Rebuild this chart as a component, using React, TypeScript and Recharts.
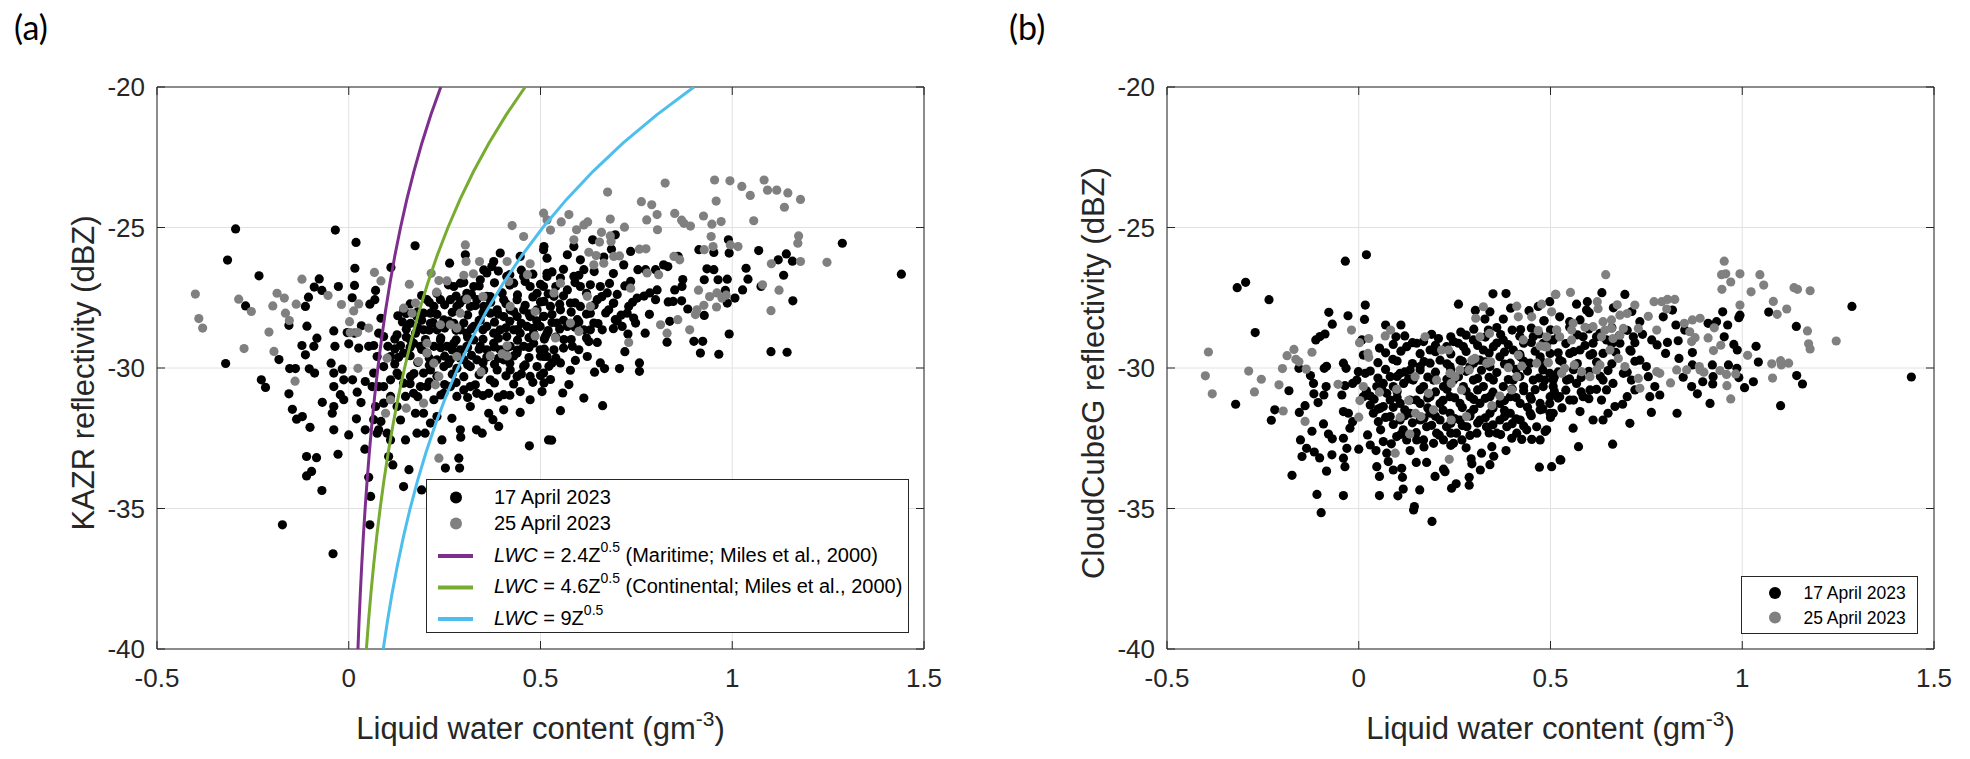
import { ScatterChart, Scatter, XAxis, YAxis, CartesianGrid, ReferenceLine, Legend } from 'recharts';

// LWC (g m-3) vs reflectivity (dBZ)
const lwcTicks = [-0.5, 0, 0.5, 1, 1.5];
const dbzTicks = [-40, -35, -30, -25, -20];

// panel (a): KAZR, 17 April 2023 (scattered points)
const kazr17: number[][] = [
  [-0.295,-25.05],[-0.035,-25.09],[0.019,-25.53],[0.173,-25.65],[-0.316,-26.16],[-0.234,-26.72],[0.016,-26.45],[0.110,-26.42],
  [-0.077,-26.83],[-0.090,-27.12],[-0.070,-27.24],[-0.027,-27.10],[0.015,-27.06],[0.070,-27.24],[0.009,-27.50],[-0.105,-27.48],
  [-0.269,-27.79],[-0.113,-27.81],[0.055,-27.73],[0.068,-27.57],[0.084,-28.23],[0.128,-28.14],[-0.156,-28.48],[-0.109,-28.51],
  [-0.039,-28.68],[-0.004,-28.74],[0.015,-28.76],[0.033,-28.50],[-0.083,-28.94],[-0.122,-29.20],[-0.091,-29.23],[-0.036,-29.23],
  [0,-29.14],[0.026,-29.29],[0.052,-29.23],[0.065,-29.20],[-0.113,-29.53],[-0.046,-29.83],[-0.321,-29.84],[-0.182,-29.70],
  [-0.154,-30.02],[-0.139,-30.02],[-0.103,-30.03],[-0.089,-30.18],[-0.039,-30.18],[-0.017,-30.04],[-0.013,-30.42],[0.010,-30.42],
  [0.043,-30.48],[0.061,-30.66],[0.022,-30.86],[-0.039,-30.66],[-0.022,-30.95],[-0.228,-30.42],[-0.217,-30.69],[-0.156,-30.92],
  [-0.069,-31.22],[-0.039,-31.37],[-0.013,-31.13],[0.032,-31.23],[-0.147,-31.47],[-0.136,-31.82],[-0.121,-31.73],[-0.101,-32.11],
  [-0.043,-31.61],[-0.039,-32.20],[0.020,-31.81],[0.043,-32.20],[0,-32.38],[0.074,-32.32],[0.084,-31.90],[-0.110,-33.15],
  [-0.084,-33.19],[-0.028,-33.07],[-0.110,-33.84],[-0.097,-33.68],[-0.070,-34.36],[0.042,-32.89],[0.052,-33.89],[0.057,-34.57],
  [0.055,-35.58],[-0.173,-35.58],[-0.041,-36.61],
  [0.091,-28.88],[0.102,-29.23],[0.126,-28.82],[0.135,-29.20],[0.143,-29.47],[0.109,-29.59],[0.091,-29.95],[0.109,-30.42],
  [0.091,-30.66],[0.126,-30.18],[0.143,-30.54],[0.161,-30.30],[0.169,-30.90],[0.148,-31.01],[0.135,-31.85],[0.148,-32.56],
  [0.109,-32.56],[0.104,-33.15],[0.115,-33.45],[0.157,-33.62],[0.143,-34.22],[0.190,-34.34],[0.178,-32.32],[0.199,-32.32],
  [0.213,-31.96],[0.195,-31.61],[0.174,-31.61],[0.230,-31.73],[0.243,-32.56],[0.252,-33.56],[0.287,-33.21],[0.289,-33.56],
  [0.269,-31.79],[0.291,-32.20],[0.292,-32.46],[0.317,-31.37],[0.333,-32.20],[0.348,-32.32],[0.365,-31.61],[0.391,-32.08],
  [0.376,-31.84],[0.471,-32.77],[0.521,-32.56],[0.447,-31.58],[0.404,-31.49],[0.473,-31.13],[0.447,-30.84],[0.504,-30.84],
  [0.404,-30.95],[0.365,-30.90],[0.334,-30.90],[0.317,-30.66],[0.300,-30.78],[0.282,-31.01],[0.265,-30.66],[0.248,-30.90],
  [0.222,-31.13],[0.204,-30.66],[0.187,-30.66],[0.195,-30.18],[0.213,-30.07],[0.230,-29.71],[0.248,-29.95],[0.265,-29.71],
  [0.282,-30.01],[0.300,-29.71],[0.317,-29.95],[0.334,-29.71],[0.352,-30.07],[0.369,-30.42],[0.387,-30.07],[0.404,-29.71],
  [0.421,-30.07],[0.439,-30.30],[0.456,-29.95],[0.473,-30.30],[0.491,-29.95],[0.508,-30.18],[0.517,-29.59],[0.499,-29.35],
  [0.482,-29.12],[0.456,-29.23],[0.439,-29.47],[0.421,-29.23],[0.395,-29.35],[0.378,-29.12],[0.360,-29.35],[0.343,-29.23],
  [0.326,-29.00],[0.308,-29.23],[0.291,-29.35],[0.274,-29.12],[0.256,-29.23],[0.239,-29.00],[0.222,-29.23],[0.204,-29.47],
  [0.187,-29.23],[0.169,-29.12],[0.174,-28.76],[0.195,-28.64],[0.213,-28.41],[0.230,-28.64],[0.248,-28.29],[0.274,-28.41],
  [0.291,-28.64],[0.308,-28.76],[0.326,-28.52],[0.343,-28.29],[0.360,-28.52],[0.378,-28.76],[0.395,-28.64],[0.412,-28.88],
  [0.430,-28.64],[0.447,-28.76],[0.465,-28.52],[0.482,-28.76],[0.499,-28.52],[0.517,-28.76],[0.508,-28.17],[0.491,-27.93],
  [0.473,-28.17],[0.456,-27.93],[0.439,-28.17],[0.421,-27.93],[0.404,-28.17],[0.387,-27.93],[0.369,-28.05],[0.352,-27.81],
  [0.334,-27.57],[0.317,-27.81],[0.300,-27.57],[0.282,-27.81],[0.265,-27.57],[0.239,-27.57],[0.222,-27.81],[0.204,-27.57],
  [0.213,-28.05],[0.195,-28.05],[0.178,-28.17],[0.161,-28.41],[0.143,-27.93],[0.274,-27.10],[0.291,-26.98],[0.308,-27.34],
  [0.326,-27.10],[0.343,-26.86],[0.352,-26.51],[0.373,-26.39],[0.395,-25.91],[0.378,-26.21],[0.412,-26.74],[0.430,-26.98],
  [0.447,-26.03],[0.456,-26.74],[0.473,-27.10],[0.491,-27.34],[0.508,-25.79],[0.508,-27.10],[0.517,-26.63],[0.439,-27.57],
  [0.404,-27.57],[0.369,-27.46],[0.304,-25.97],[0.263,-26.27],[0.078,-28.76],[0.074,-29.59],[0.065,-30.18],[0.078,-30.66],
  [0.070,-31.37],[0.091,-31.25],[0.109,-31.01],[0.126,-31.37],[0.065,-31.84],[0.100,-32.32],[0.078,-32.20],[0.161,-29.00],
  [1.287,-25.56],[1.441,-26.66],[1.158,-27.61],[1.141,-25.94],[1.120,-26.15],[1.069,-25.82],[0.990,-25.44],[0.992,-25.91],
  [0.952,-25.89],[0.913,-25.79],[0.934,-26.47],[0.952,-26.50],[0.987,-26.84],[0.963,-26.86],[0.927,-26.86],[0.871,-26.85],
  [0.869,-27.10],[0.850,-27.22],[1.036,-26.45],[1.041,-26.84],[1.027,-27.22],[1.007,-27.51],[0.982,-27.24],[0.987,-27.69],
  [0.992,-28.79],[0.923,-29.05],[0.900,-29.05],[0.917,-29.47],[0.965,-29.51],[1.101,-29.42],[1.143,-29.44],[0.927,-28.13],
  [0.884,-27.90],[0.868,-27.61],[0.846,-27.63],[0.833,-27.65],[0.837,-28.34],[0.830,-29.08],[0.859,-26.03],[0.832,-26.39],
  [0.821,-26.33],[0.800,-26.50],[0.774,-26.50],[0.754,-26.50],[0.785,-27.33],[0.804,-27.22],[0.784,-28.09],[0.800,-27.57],
  [0.773,-28.76],[0.758,-29.82],[0.758,-30.12],[0.706,-30.02],[0.667,-30.02],[0.656,-29.82],[0.641,-30.15],[0.613,-31.07],
  [0.662,-31.34],[0.552,-31.52],[0.529,-32.57],[0.558,-30.89],[0.574,-30.59],[0.578,-30.08],[0.591,-29.73],[0.622,-29.59],
  [0.648,-29.09],[0.626,-29.06],[0.720,-29.42],[0.728,-28.79],[0.748,-28.40],[0.743,-28.22],[0.713,-28.52],[0.695,-28.28],
  [0.678,-27.93],[0.691,-27.69],[0.726,-28.05],[0.730,-27.81],[0.752,-27.51],[0.735,-26.92],[0.717,-26.33],[0.735,-25.85],
  [0.695,-25.26],[0.685,-25.77],[0.665,-26.05],[0.636,-25.44],[0.604,-26.15],[0.587,-25.68],[0.570,-25.97],[0.509,-25.68],
  [0.517,-26.09],[0.613,-26.50],[0.587,-26.74],[0.552,-26.80],[0.517,-26.74],[0.604,-27.10],[0.570,-27.22],[0.535,-27.45],
  [0.509,-27.63],[0.656,-27.10],[0.674,-27.33],[0.648,-27.57],[0.630,-28.05],[0.604,-27.81],[0.578,-27.69],[0.552,-27.93],
  [0.526,-27.81],[0.509,-28.16],[0.543,-28.40],[0.570,-28.52],[0.596,-28.28],[0.613,-28.64],[0.639,-28.40],[0.661,-28.64],
  [0.513,-28.87],[0.561,-28.99],[0.583,-29.23],[0.535,-29.35],[0.509,-29.59],[0.552,-29.82],[0.522,-29.94],[0.509,-30.53],
  [0.526,-30.41],[1.157,-26.20],[1.134,-26.70],[1.075,-27.10],
];

// panel (a): KAZR, 17 April 2023 (dense core, estimated)
const kazr17Core: number[][] = [
  [0.36,-26.62],[0.39,-26.55],[0.42,-26.68],[0.45,-26.52],[0.48,-26.66],[0.53,-26.58],[0.56,-26.49],[0.60,-26.70],[0.64,-26.57],[0.69,-26.64],
  [0.26,-27.04],[0.30,-26.95],[0.34,-27.08],[0.38,-26.97],[0.42,-27.05],[0.46,-26.92],[0.50,-27.02],[0.54,-27.10],[0.59,-26.96],[0.63,-27.04],[0.68,-26.99],[0.72,-27.08],
  [0.19,-27.42],[0.23,-27.35],[0.28,-27.44],[0.32,-27.38],[0.36,-27.45],[0.40,-27.33],[0.44,-27.40],[0.48,-27.47],[0.52,-27.36],[0.56,-27.43],[0.62,-27.34],[0.66,-27.46],[0.70,-27.38],[0.77,-27.44],
  [0.16,-27.72],[0.21,-27.66],[0.25,-27.75],[0.29,-27.69],[0.33,-27.78],[0.37,-27.66],[0.41,-27.71],[0.46,-27.77],[0.50,-27.65],[0.55,-27.73],[0.59,-27.68],[0.64,-27.76],[0.69,-27.70],[0.74,-27.66],
  [0.15,-28.06],[0.18,-28.00],[0.23,-28.09],[0.27,-28.02],[0.31,-28.11],[0.35,-28.03],[0.39,-28.08],[0.43,-27.99],[0.47,-28.07],[0.53,-28.10],[0.58,-28.01],[0.62,-28.08],[0.67,-28.04],[0.71,-28.12],
  [0.14,-28.36],[0.19,-28.30],[0.22,-28.38],[0.26,-28.33],[0.30,-28.40],[0.34,-28.31],[0.38,-28.37],[0.42,-28.34],[0.45,-28.41],[0.49,-28.32],[0.53,-28.38],[0.56,-28.30],[0.60,-28.36],[0.65,-28.42],[0.70,-28.33],
  [0.15,-28.62],[0.18,-28.56],[0.21,-28.65],[0.25,-28.58],[0.28,-28.66],[0.32,-28.60],[0.35,-28.64],[0.41,-28.57],[0.44,-28.63],[0.48,-28.59],[0.52,-28.67],[0.55,-28.61],[0.59,-28.55],[0.63,-28.64],[0.69,-28.60],
  [0.12,-28.97],[0.15,-28.90],[0.20,-28.99],[0.24,-28.93],[0.28,-29.00],[0.31,-28.91],[0.35,-28.98],[0.39,-28.94],[0.44,-29.01],[0.47,-28.92],[0.51,-28.97],[0.54,-28.90],[0.58,-28.99],[0.62,-28.93],
  [0.12,-29.32],[0.16,-29.26],[0.19,-29.34],[0.24,-29.28],[0.27,-29.36],[0.31,-29.27],[0.34,-29.33],[0.38,-29.25],[0.41,-29.31],[0.44,-29.36],[0.47,-29.27],[0.51,-29.33],[0.56,-29.29],[0.60,-29.35],
  [0.13,-29.62],[0.16,-29.56],[0.21,-29.65],[0.25,-29.58],[0.29,-29.64],[0.32,-29.55],[0.36,-29.61],[0.39,-29.66],[0.43,-29.57],[0.47,-29.63],[0.50,-29.58],[0.54,-29.64],
  [0.12,-29.86],[0.18,-29.80],[0.21,-29.90],[0.26,-29.84],[0.31,-29.88],[0.35,-29.81],[0.38,-29.87],[0.42,-29.83],[0.46,-29.89],[0.53,-29.82],
  [0.13,-30.26],[0.17,-30.20],[0.23,-30.29],[0.27,-30.22],[0.30,-30.31],[0.34,-30.24],[0.41,-30.28],[0.45,-30.21],[0.50,-30.27],
  [0.16,-30.56],[0.21,-30.50],[0.25,-30.59],[0.28,-30.52],[0.33,-30.60],[0.38,-30.53],[0.43,-30.57],[0.48,-30.51],
  [0.18,-31.02],[0.24,-30.96],[0.31,-31.05],[0.35,-30.98],[0.39,-31.04],[0.42,-30.97],
];

// panel (a): KAZR, 25 April 2023
const kazr25: number[][] = [
  [-0.400,-27.37],[-0.391,-28.24],[-0.381,-28.58],[-0.287,-27.55],[-0.254,-27.99],[-0.273,-29.31],[-0.208,-28.72],[-0.198,-27.79],
  [-0.187,-27.34],[-0.168,-27.51],[-0.165,-28.05],[-0.155,-28.31],[-0.195,-29.41],[-0.137,-27.73],[-0.122,-26.84],[-0.140,-30.47],
  [-0.054,-27.42],[-0.019,-27.74],[0.013,-27.97],[0.002,-28.35],[0.026,-27.72],[0.004,-28.74],[0.023,-28.74],[0.052,-28.58],
  [0.067,-26.60],[0.084,-26.90],[0.158,-27.02],[0.143,-27.87],[0.165,-28.05],[0.174,-27.69],[0.215,-26.63],[0.235,-26.89],
  [0.256,-26.90],[0.229,-27.30],[0.304,-25.62],[0.306,-26.21],[0.341,-26.21],[0.300,-26.70],[0.325,-26.65],[0.350,-27.46],
  [0.426,-24.93],[0.456,-25.32],[0.413,-26.21],[0.473,-26.29],[0.466,-26.68],[0.508,-24.49],[0.517,-24.73],[0.417,-26.92],
  [0.421,-27.81],[0.486,-27.99],[0.486,-28.86],[0.413,-29.21],[0.369,-29.57],[0.400,-29.50],[0.413,-29.57],[0.345,-30.14],
  [0.291,-28.05],[0.308,-27.55],[0.265,-28.46],[0.282,-28.58],[0.282,-29.59],[0.239,-28.46],[0.204,-29.12],[0.204,-29.47],
  [0.182,-29.77],[0.222,-29.83],[0.235,-30.30],[0.226,-30.60],[0.109,-31.13],[0.096,-31.61],[0.150,-31.43],[0.195,-31.25],
  [0.024,-30.01],[0.100,-29.65],[0.235,-33.21],
  [0.825,-23.42],[0.954,-23.31],[0.994,-23.34],[1.025,-23.54],[1.047,-23.86],[1.083,-23.31],[1.092,-23.67],[1.116,-23.67],
  [1.145,-23.77],[1.136,-24.28],[1.178,-24.00],[0.675,-23.74],[0.763,-24.08],[0.790,-24.19],[0.804,-24.54],[0.777,-24.73],
  [0.805,-25.08],[0.682,-24.70],[0.719,-24.99],[0.850,-24.50],[0.868,-24.74],[0.874,-24.85],[0.891,-24.95],[0.925,-24.59],
  [0.958,-24.06],[0.971,-24.79],[0.947,-24.88],[1.056,-24.76],[0.574,-24.54],[0.554,-24.80],[0.623,-24.80],[0.613,-24.91],
  [0.594,-25.08],[0.526,-25.09],[0.659,-25.17],[0.682,-25.30],[0.684,-25.50],[0.654,-25.52],[0.587,-25.44],[0.626,-25.88],
  [0.645,-26.00],[0.665,-26.27],[0.639,-26.33],[0.691,-26.03],[0.706,-26.01],[0.735,-27.16],[0.758,-25.77],[0.775,-25.76],
  [0.808,-26.68],[0.778,-26.62],[0.848,-26.03],[0.863,-26.15],[0.945,-25.32],[0.950,-25.68],[0.927,-25.79],[0.995,-25.62],
  [1.015,-25.68],[1.173,-25.30],[1.171,-25.56],[1.178,-26.21],[1.102,-26.29],[1.247,-26.24],[1.079,-27.04],[1.122,-27.23],
  [1.101,-27.96],[0.912,-27.23],[0.941,-27.46],[0.960,-27.33],[0.973,-27.51],[0.984,-27.41],[0.926,-27.77],[0.908,-27.93],
  [0.959,-27.83],[0.904,-28.10],[0.858,-28.28],[0.889,-28.64],[0.830,-28.76],[0.813,-28.46],[0.730,-29.09],[0.535,-27.33],
  [0.552,-26.98],[0.622,-27.45],[0.630,-27.81],[0.578,-28.40],[0.539,-28.93],[0.600,-28.70],
];

// panel (b): CloudCubeG, 17 April 2023 (scattered points)
const cube17: number[][] = [
  [-0.317,-27.14],[-0.295,-26.95],[-0.234,-27.57],[-0.270,-28.74],[-0.321,-31.29],[-0.228,-31.86],[-0.219,-31.49],[-0.182,-30.81],
  [-0.174,-33.82],[-0.152,-32.56],[-0.148,-33.15],[-0.136,-32.86],[-0.155,-31.58],[-0.140,-31.34],[-0.122,-32.25],[-0.109,-34.50],
  [-0.098,-35.15],[-0.112,-29.00],[-0.101,-28.88],[-0.088,-28.79],[-0.078,-28.02],[-0.069,-28.44],[-0.156,-30.01],[-0.126,-30.27],
  [-0.118,-30.55],[-0.117,-30.92],[-0.106,-31.23],[-0.084,-29.94],[-0.090,-30.01],[-0.085,-30.66],[-0.091,-30.96],[-0.092,-31.99],
  [-0.079,-32.35],[-0.069,-32.52],[-0.070,-33.09],[-0.084,-33.67],[-0.102,-33.20],[-0.116,-32.99],[-0.035,-26.20],[0.020,-25.97],
  [-0.028,-28.14],[0.017,-27.76],[0.015,-28.27],[0.008,-29.00],[0.012,-29.54],[-0.040,-29.83],[-0.033,-30.01],[-0.036,-30.63],
  [-0.044,-30.96],[-0.040,-31.55],[-0.027,-31.61],[-0.023,-32.14],[-0.016,-31.91],[-0.040,-32.50],[-0.031,-32.86],[-0.040,-33.21],
  [-0.036,-33.51],[-0.040,-34.54],[0,-32.89],[-0.001,-30.13],[-0.005,-30.43],[0.017,-30.19],[-0.016,-30.55],[0.012,-31.02],
  [0.030,-31.00],[0.030,-31.32],[0.023,-32.38],[0.030,-32.74],[0.045,-32.94],[0.047,-33.51],[0.054,-33.86],[0.054,-34.54],
  [0.038,-31.61],[0.051,-31.91],[0.056,-31.43],[0.057,-32.20],[0.064,-32.62],[0.073,-33.03],[0.077,-33.33],[0.085,-32.70],
  [0.090,-33.63],[0.112,-33.57],[0.114,-33.89],[0.116,-34.31],[0.102,-34.55],[0.145,-34.93],[0.143,-35.05],[0.191,-35.46],
  [0.159,-34.34],[0.134,-32.94],[0.151,-32.56],[0.150,-33.36],[0.177,-33.36],[0.199,-33.86],[0.221,-33.60],[0.225,-33.69],
  [0.242,-34.28],[0.254,-34.12],[0.288,-34.17],[0.288,-33.89],[0.295,-33.41],[0.293,-33.23],[0.317,-33.63],[0.320,-33.03],
  [0.342,-33.44],[0.352,-33.14],[0.347,-32.80],[0.384,-32.94],[0.471,-33.53],[0.525,-33.27],[0.260,-27.73],[0.304,-27.95],
  [0.329,-28.26],[0.342,-28.00],[0.350,-27.36],[0.384,-27.35],[0.396,-27.87],[0.377,-28.26],[0.444,-27.96],[0.468,-27.81],
  [0.483,-28.32],[0.422,-28.63],[0.266,-28.72],[0.338,-28.65],[0.070,-28.47],[0.097,-28.89],[0.110,-28.47],[0.054,-29.29],
  [0.089,-29.69],
  [0.125,-29.24],[0.151,-29.12],[0.169,-29.06],[0.186,-29.36],[0.208,-28.95],[0.229,-29.24],[0.247,-29.06],[0.273,-29.24],
  [0.299,-29.00],[0.325,-29.36],[0.351,-29.24],[0.377,-29.00],[0.403,-29.36],[0.430,-29.12],[0.455,-28.89],[0.481,-29.12],
  [0.507,-29.00],[0.499,-29.48],[0.473,-29.60],[0.447,-29.83],[0.421,-29.60],[0.395,-29.83],[0.368,-29.60],[0.342,-29.95],
  [0.316,-29.72],[0.290,-29.95],[0.264,-29.72],[0.238,-29.95],[0.212,-29.72],[0.186,-29.83],[0.160,-29.95],[0.134,-30.07],
  [0.108,-30.19],[0.082,-30.31],[0.064,-30.55],[0.047,-30.66],[0.073,-30.90],[0.090,-30.66],[0.117,-30.55],[0.142,-30.43],
  [0.169,-30.66],[0.195,-30.43],[0.221,-30.66],[0.247,-30.43],[0.273,-30.66],[0.299,-30.43],[0.325,-30.66],[0.351,-30.43],
  [0.377,-30.66],[0.403,-30.43],[0.430,-30.66],[0.455,-30.43],[0.481,-30.66],[0.507,-30.43],[0.499,-31.02],[0.473,-31.26],
  [0.447,-31.02],[0.421,-31.26],[0.395,-31.02],[0.368,-31.26],[0.342,-31.02],[0.316,-31.26],[0.290,-31.02],[0.264,-31.26],
  [0.238,-31.02],[0.212,-31.26],[0.186,-31.02],[0.160,-31.26],[0.134,-31.14],[0.108,-31.26],[0.082,-31.14],[0.064,-31.37],
  [0.082,-31.73],[0.108,-31.85],[0.134,-31.61],[0.160,-31.85],[0.186,-31.61],[0.212,-31.85],[0.238,-31.61],[0.264,-31.85],
  [0.290,-31.61],[0.316,-31.85],[0.342,-31.61],[0.368,-31.85],[0.395,-31.61],[0.421,-31.85],[0.447,-31.61],[0.473,-31.49],
  [0.499,-31.61],[0.464,-32.09],[0.438,-32.20],[0.412,-32.32],[0.386,-32.09],[0.360,-32.32],[0.333,-32.09],[0.308,-32.32],
  [0.282,-32.09],[0.255,-32.32],[0.229,-32.09],[0.203,-32.32],[0.177,-32.09],[0.116,-32.20],[0.099,-32.44],[0.125,-32.56],
  [0.169,-32.56],[0.195,-32.68],[0.221,-32.56],[0.247,-32.68],[0.269,-32.56],[0.399,-32.50],[0.425,-32.54],[0.451,-32.54],
  [0.473,-32.56],[0.486,-32.26],
  [1.286,-27.81],[1.441,-30.32],[1.141,-28.52],[1.142,-30.27],[1.157,-30.57],[1.100,-31.34],[1.069,-28.01],[1.036,-29.23],
  [1.042,-29.79],[1.029,-30.49],[1.006,-30.70],[0.991,-30.34],[0.986,-30.01],[0.978,-29.16],[0.987,-29.36],[0.991,-28.21],
  [0.994,-28.12],[0.964,-29.89],[0.953,-28.89],[0.949,-28.00],[0.962,-28.47],[0.933,-28.35],[0.911,-28.41],[0.922,-29.89],
  [0.923,-30.57],[0.924,-30.31],[0.916,-31.26],[0.897,-30.49],[0.883,-30.92],[0.868,-30.66],[0.870,-29.89],[0.870,-29.45],
  [0.846,-30.33],[0.830,-31.61],[0.835,-29.66],[0.833,-29.03],[0.827,-28.47],[0.850,-28.65],[0.818,-27.94],[0.800,-29.48],
  [0.794,-28.18],[0.805,-29.09],[0.778,-29.18],[0.764,-29.00],[0.763,-31.58],[0.759,-31.02],[0.785,-30.96],[0.772,-30.66],
  [0.755,-30.31],[0.750,-29.95],[0.733,-29.72],[0.707,-31.97],[0.700,-31.02],[0.720,-30.78],[0.711,-30.43],[0.690,-30.19],
  [0.668,-31.37],[0.688,-31.29],[0.662,-32.71],[0.650,-31.61],[0.637,-31.85],[0.633,-31.14],[0.611,-31.85],[0.577,-31.55],
  [0.573,-32.80],[0.559,-32.14],[0.527,-33.27],[0.503,-33.51],[0.490,-32.20],[0.507,-31.61],[0.498,-31.26],[0.524,-31.02],
  [0.550,-31.14],[0.585,-31.02],[0.603,-30.78],[0.646,-30.78],[0.663,-30.55],[0.637,-30.43],[0.568,-30.55],[0.542,-30.43],
  [0.507,-30.66],[0.485,-30.43],[0.498,-30.19],[0.524,-29.72],[0.550,-29.48],[0.577,-29.36],[0.603,-29.54],[0.637,-29.48],
  [0.707,-29.36],[0.681,-29.12],[0.716,-28.89],[0.733,-28.35],[0.712,-27.99],[0.694,-27.38],[0.664,-27.86],[0.634,-27.32],
  [0.596,-27.64],[0.594,-27.94],[0.568,-27.73],[0.601,-28.03],[0.577,-28.29],[0.550,-28.35],[0.524,-28.18],[0.498,-27.64],
  [0.483,-28.32],[0.494,-29.00],[0.585,-28.89],[0.611,-29.12],[0.646,-29.00],[0.629,-28.77],
];

// panel (b): CloudCubeG, 17 April 2023 (dense core, estimated)
const cube17Core: number[][] = [
  [0.30,-28.62],[0.36,-28.56],[0.40,-28.65],[0.45,-28.58],[0.50,-28.64],[0.55,-28.55],[0.60,-28.61],[0.66,-28.57],[0.70,-28.66],
  [0.12,-28.86],[0.19,-28.80],[0.24,-28.89],[0.28,-28.83],[0.33,-28.90],[0.37,-28.81],[0.42,-28.87],[0.47,-28.79],[0.52,-28.88],[0.57,-28.82],[0.62,-28.89],[0.68,-28.84],[0.74,-28.80],
  [0.09,-29.16],[0.14,-29.10],[0.20,-29.19],[0.26,-29.12],[0.31,-29.20],[0.36,-29.11],[0.39,-29.17],[0.45,-29.09],[0.49,-29.18],[0.54,-29.13],[0.59,-29.20],[0.66,-29.14],[0.72,-29.10],
  [0.07,-29.46],[0.11,-29.40],[0.16,-29.49],[0.20,-29.42],[0.24,-29.50],[0.28,-29.41],[0.34,-29.47],[0.38,-29.43],[0.42,-29.51],[0.46,-29.40],[0.52,-29.46],[0.56,-29.42],[0.61,-29.49],[0.67,-29.44],[0.71,-29.40],
  [0.05,-29.81],[0.10,-29.75],[0.14,-29.84],[0.17,-29.77],[0.23,-29.85],[0.27,-29.76],[0.30,-29.82],[0.33,-29.78],[0.38,-29.86],[0.43,-29.75],[0.48,-29.81],[0.53,-29.77],[0.57,-29.84],[0.62,-29.79],[0.66,-29.85],[0.72,-29.76],
  [0.03,-30.11],[0.07,-30.05],[0.12,-30.14],[0.16,-30.07],[0.20,-30.15],[0.24,-30.06],[0.28,-30.12],[0.32,-30.08],[0.36,-30.16],[0.41,-30.05],[0.44,-30.11],[0.48,-30.07],[0.52,-30.14],[0.56,-30.06],[0.60,-30.12],[0.65,-30.09],[0.70,-30.15],
  [0.05,-30.36],[0.10,-30.30],[0.13,-30.39],[0.18,-30.32],[0.23,-30.40],[0.26,-30.31],[0.31,-30.37],[0.34,-30.33],[0.39,-30.41],[0.42,-30.30],[0.47,-30.36],[0.51,-30.32],[0.55,-30.39],[0.58,-30.34],[0.63,-30.30],
  [0.02,-30.81],[0.06,-30.75],[0.10,-30.84],[0.16,-30.77],[0.20,-30.85],[0.23,-30.76],[0.28,-30.82],[0.31,-30.78],[0.35,-30.86],[0.40,-30.75],[0.43,-30.81],[0.46,-30.77],[0.51,-30.84],[0.54,-30.79],[0.58,-30.85],[0.62,-30.76],
  [0.04,-31.11],[0.10,-31.05],[0.15,-31.14],[0.18,-31.07],[0.22,-31.15],[0.25,-31.06],[0.30,-31.12],[0.33,-31.08],[0.38,-31.16],[0.41,-31.05],[0.45,-31.11],[0.52,-31.07],[0.56,-31.14],[0.60,-31.09],
  [0.05,-31.46],[0.09,-31.40],[0.12,-31.49],[0.18,-31.42],[0.22,-31.50],[0.27,-31.41],[0.30,-31.47],[0.35,-31.43],[0.38,-31.51],[0.44,-31.40],[0.48,-31.46],[0.53,-31.42],
  [0.07,-31.76],[0.12,-31.70],[0.17,-31.79],[0.20,-31.72],[0.25,-31.80],[0.29,-31.71],[0.33,-31.77],[0.38,-31.73],[0.41,-31.81],[0.45,-31.70],[0.50,-31.76],
  [0.09,-32.01],[0.14,-31.95],[0.19,-32.04],[0.24,-31.97],[0.27,-32.05],[0.31,-31.96],[0.35,-32.02],[0.40,-31.98],[0.43,-32.06],
  [0.11,-32.36],[0.15,-32.30],[0.21,-32.39],[0.24,-32.32],[0.29,-32.40],[0.34,-32.31],[0.37,-32.37],
  [0.17,-32.81],[0.24,-32.75],[0.28,-32.84],
];

// panel (b): CloudCubeG, 25 April 2023
const cube25: number[][] = [
  [-0.392,-29.43],[-0.400,-30.28],[-0.382,-30.92],[-0.287,-30.11],[-0.272,-30.85],[-0.254,-30.40],[-0.208,-30.60],[-0.199,-30.02],
  [-0.197,-31.53],[-0.187,-29.56],[-0.169,-29.34],[-0.164,-29.69],[-0.156,-29.78],[-0.140,-31.90],[-0.122,-29.44],[-0.137,-30.04],
  [-0.054,-30.58],[-0.019,-28.65],[0.002,-29.10],[0.026,-28.95],[0.024,-29.48],[0.026,-29.62],[0.012,-30.66],[0.003,-31.16],
  [0,-31.75],[0.054,-30.86],[0.069,-28.86],[0.083,-28.65],[0.095,-33.03],[0.099,-30.76],[0.108,-31.75],[0.133,-32.35],
  [0.130,-31.16],[0.147,-30.31],[0.148,-31.61],[0.162,-31.73],[0.173,-28.89],[0.195,-31.49],[0.182,-30.90],[0.203,-30.43],
  [0.216,-29.36],[0.234,-29.36],[0.238,-30.19],[0.241,-30.55],[0.241,-31.85],[0.236,-33.25],[0.251,-30.31],[0.264,-30.07],
  [0.268,-30.78],[0.281,-31.73],[0.288,-30.07],[0.295,-29.72],[0.303,-29.66],[0.316,-28.89],[0.325,-27.82],[0.305,-28.23],
  [0.334,-29.83],[0.344,-29.78],[0.341,-28.77],[0.347,-31.34],[0.368,-31.00],[0.390,-29.99],[0.399,-30.78],[0.412,-30.31],
  [0.416,-29.54],[0.416,-28.18],[0.412,-27.80],[0.425,-29.93],[0.429,-29.00],[0.451,-28.18],[0.468,-28.67],[0.473,-29.22],
  [0.490,-29.25],[0.494,-29.81],[0.477,-27.73],[0.503,-28.00],[0.513,-27.38],[0.516,-28.65],[0.464,-29.83],
  [0.953,-26.20],[0.946,-26.68],[0.957,-26.65],[0.970,-26.94],[0.994,-26.65],[0.947,-27.20],[1.046,-26.68],[1.056,-27.05],
  [1.023,-27.29],[1.135,-27.14],[1.144,-27.20],[1.177,-27.25],[1.081,-27.63],[1.116,-27.90],[1.091,-28.09],[0.994,-27.76],
  [1.170,-28.68],[1.173,-29.14],[1.177,-29.32],[1.245,-29.04],[1.014,-29.55],[1.077,-29.85],[1.100,-29.74],[1.102,-29.89],
  [1.121,-29.83],[1.079,-30.36],[0.970,-31.10],[0.960,-30.63],[0.983,-30.21],[0.959,-30.23],[0.942,-30.09],[0.944,-29.19],
  [0.925,-29.38],[0.911,-28.93],[0.890,-28.23],[0.870,-28.29],[0.877,-28.92],[0.863,-28.71],[0.868,-29.06],[0.849,-28.41],
  [0.927,-28.57],[0.813,-30.53],[0.829,-30.07],[0.855,-30.07],[0.888,-29.95],[0.900,-30.15],[0.890,-30.07],[0.777,-28.65],
  [0.755,-28.16],[0.824,-27.56],[0.805,-27.56],[0.790,-27.64],[0.770,-27.64],[0.803,-27.90],[0.644,-26.68],[0.552,-27.31],
  [0.514,-27.38],[0.622,-27.64],[0.624,-27.89],[0.674,-27.75],[0.720,-27.76],[0.700,-28.06],[0.681,-28.12],[0.659,-28.29],
  [0.637,-28.35],[0.659,-28.59],[0.642,-28.65],[0.611,-28.53],[0.590,-28.55],[0.559,-28.41],[0.555,-28.65],[0.516,-28.65],
  [0.524,-28.89],[0.690,-28.59],[0.681,-28.83],[0.729,-28.59],[0.663,-28.95],[0.633,-28.89],[0.555,-29.00],[0.485,-29.24],
  [0.490,-28.89],[0.655,-29.36],[0.677,-29.66],[0.629,-29.89],[0.620,-30.07],[0.537,-30.01],[0.529,-30.19],[0.581,-30.13],
  [0.562,-29.89],[0.694,-29.95],[0.729,-30.37],[0.733,-30.72],[0.777,-30.13],[0.785,-30.19],[0.494,-29.80],[0.603,-30.31],
];

// reflectivity–LWC relations LWC = a Z^0.5, sampled every 1 dBZ
const dbzLevels = [-40, -39, -38, -37, -36, -35, -34, -33, -32, -31, -30, -29, -28, -27, -26, -25, -24, -23, -22, -21, -20];
const lwcMaritime = [0.024, 0.0269, 0.0302, 0.0339, 0.038, 0.0427, 0.0479, 0.0537, 0.0603, 0.0676, 0.0759, 0.0852, 0.0955, 0.1072, 0.1203, 0.135, 0.1514, 0.1699, 0.1906, 0.2139, 0.24];
const lwcContinental = [0.046, 0.0516, 0.0579, 0.065, 0.0729, 0.0818, 0.0918, 0.103, 0.1156, 0.1296, 0.1455, 0.1632, 0.1831, 0.2055, 0.2305, 0.2587, 0.2902, 0.3256, 0.3654, 0.41, 0.46];
const lwcNine = [0.09, 0.101, 0.1133, 0.1272, 0.1427, 0.16, 0.1796, 0.2015, 0.2261, 0.2536, 0.2846, 0.3193, 0.3583, 0.402, 0.4511, 0.5061, 0.5679, 0.6371, 0.7149, 0.8022, 0.9];

const FONT = '"Liberation Sans", Arial, Helvetica, sans-serif';
const INK = '#262626';
const PLOT_W = 767;
const PLOT_H = 562;
const TICK_LEN = 8;
const X_MARGIN = 29;
const Y_MARGIN = 12;
const TITLE_SIZE = 31;

const toPts = (pairs: number[][]) => pairs.map(([x, y]) => ({ x, y }));
const curve = (lwc: number[]) => lwc.map((x, i) => ({ x, y: dbzLevels[i] }));

const dot = (fill: string) => (p: any) => <circle cx={p.cx} cy={p.cy} r={4.6} fill={fill} />;
const noDot = () => <g />;

function XTick({ x, y, payload }: any) {
  const axisY = y - X_MARGIN;
  return (
    <g>
      <line x1={x} x2={x} y1={axisY} y2={axisY - TICK_LEN} stroke={INK} />
      <line x1={x} x2={x} y1={axisY - PLOT_H} y2={axisY - PLOT_H + TICK_LEN} stroke={INK} />
      <text x={x} y={y} textAnchor="middle" dominantBaseline="central" fontSize={26} fill={INK} fontFamily={FONT}>
        {String(payload.value)}
      </text>
    </g>
  );
}

function YTick({ x, y, payload }: any) {
  const axisX = x + Y_MARGIN;
  return (
    <g>
      <line x1={axisX} x2={axisX + TICK_LEN} y1={y} y2={y} stroke={INK} />
      <line x1={axisX + PLOT_W} x2={axisX + PLOT_W - TICK_LEN} y1={y} y2={y} stroke={INK} />
      <text x={x} y={y} textAnchor="end" dominantBaseline="central" fontSize={26} fill={INK} fontFamily={FONT}>
        {String(payload.value)}
      </text>
    </g>
  );
}

const xTitle = (props: any) => {
  const vb = props.viewBox || { x: 0, y: 0, width: 0 };
  return (
    <text x={vb.x + vb.width / 2} y={vb.y + 90} textAnchor="middle" fontSize={TITLE_SIZE} fill={INK} fontFamily={FONT} style={{ whiteSpace: 'pre' }}>
      Liquid water content (gm<tspan dy={-13} fontSize={21}>-3</tspan><tspan dy={13}>)</tspan>
    </text>
  );
};

const yTitle = (label: string) => (props: any) => {
  const vb = props.viewBox || { x: 0, y: 0, width: 0, height: 0 };
  const cx = vb.x + vb.width - 63;
  const cy = vb.y + vb.height / 2 + 5;
  return (
    <text x={cx} y={cy} transform={`rotate(-90 ${cx} ${cy})`} textAnchor="middle" fontSize={TITLE_SIZE} fill={INK} fontFamily={FONT}>
      {label}
    </text>
  );
};

const LegendA = () => (
  <svg width={483} height={154} style={{ display: 'block' }}>
    <rect x={0.5} y={0.5} width={482} height={153} fill="#fff" stroke={INK} />
    <g fontFamily={FONT} fontSize={20} fill="#000" style={{ whiteSpace: 'pre' }}>
      <circle cx={30} cy={18.5} r={6} fill="#000" />
      <text x={68} y={24.5}>17 April 2023</text>
      <circle cx={30} cy={44.5} r={6} fill="#808080" />
      <text x={68} y={50.5}>25 April 2023</text>
      <line x1={12} x2={47} y1={77} y2={77} stroke="#7E2F8E" strokeWidth={4} />
      <text x={68} y={82.5}>
        <tspan fontStyle="italic">LWC</tspan> = 2.4Z<tspan dy={-10} fontSize={14}>0.5</tspan><tspan dy={10}> (Maritime; Miles et al., 2000)</tspan>
      </text>
      <line x1={12} x2={47} y1={108.5} y2={108.5} stroke="#77AC30" strokeWidth={4} />
      <text x={68} y={114}>
        <tspan fontStyle="italic">LWC</tspan> = 4.6Z<tspan dy={-10} fontSize={14}>0.5</tspan><tspan dy={10}> (Continental; Miles et al., 2000)</tspan>
      </text>
      <line x1={12} x2={47} y1={140} y2={140} stroke="#4DBEEE" strokeWidth={4} />
      <text x={68} y={145.5}>
        <tspan fontStyle="italic">LWC</tspan> = 9Z<tspan dy={-10} fontSize={14}>0.5</tspan>
      </text>
    </g>
  </svg>
);

const LegendB = () => (
  <svg width={177} height={58} style={{ display: 'block' }}>
    <rect x={0.5} y={0.5} width={176} height={57} fill="#fff" stroke={INK} />
    <g fontFamily={FONT} fontSize={17.5} fill="#000">
      <circle cx={34} cy={17} r={6} fill="#000" />
      <text x={62.5} y={23}>17 April 2023</text>
      <circle cx={34} cy={41.5} r={6} fill="#808080" />
      <text x={62.5} y={47.5}>25 April 2023</text>
    </g>
  </svg>
);

interface PanelProps {
  dark: number[][];
  light: number[][];
  yLabel: string;
  yAxisWidth: number;
  rightMargin: number;
  withCurves: boolean;
  legend: () => JSX.Element;
  legendBox: { left: number; top: number; width: number; height: number };
}

function Panel({ dark, light, yLabel, yAxisWidth, rightMargin, withCurves, legend, legendBox }: PanelProps) {
  return (
    <ScatterChart width={985} height={759} margin={{ top: 87, right: rightMargin, bottom: 50, left: 0 }}>
      <CartesianGrid stroke="#e2e2e2" />
      <XAxis
        type="number"
        dataKey="x"
        domain={[-0.5, 1.5]}
        ticks={lwcTicks}
        allowDataOverflow
        height={60}
        tickSize={0}
        tickLine={false}
        tickMargin={X_MARGIN}
        tick={<XTick />}
        axisLine={{ stroke: INK }}
        label={xTitle}
      />
      <YAxis
        type="number"
        dataKey="y"
        domain={[-40, -20]}
        ticks={dbzTicks}
        allowDataOverflow
        width={yAxisWidth}
        tickSize={0}
        tickLine={false}
        tickMargin={Y_MARGIN}
        tick={<YTick />}
        axisLine={{ stroke: INK }}
        label={yTitle(yLabel)}
      />
      <Scatter data={toPts(dark)} shape={dot('#000000')} isAnimationActive={false} legendType="none" />
      <Scatter data={toPts(light)} shape={dot('#808080')} isAnimationActive={false} legendType="none" />
      {withCurves && (
        <Scatter data={curve(lwcMaritime)} line={{ stroke: '#7E2F8E', strokeWidth: 3 }} lineType="joint" shape={noDot} isAnimationActive={false} legendType="none" />
      )}
      {withCurves && (
        <Scatter data={curve(lwcContinental)} line={{ stroke: '#77AC30', strokeWidth: 3 }} lineType="joint" shape={noDot} isAnimationActive={false} legendType="none" />
      )}
      {withCurves && (
        <Scatter data={curve(lwcNine)} line={{ stroke: '#4DBEEE', strokeWidth: 3 }} lineType="joint" shape={noDot} isAnimationActive={false} legendType="none" />
      )}
      <ReferenceLine x={1.5} stroke={INK} />
      <ReferenceLine y={-20} stroke={INK} />
      <Legend
        layout="horizontal"
        verticalAlign="middle"
        align="center"
        content={legend}
        wrapperStyle={{ position: 'absolute', margin: 0, padding: 0, ...legendBox }}
      />
    </ScatterChart>
  );
}

const panelTag = (text: string, left: number) => (
  <svg style={{ position: 'absolute', left, top: 0 }} width={70} height={60}>
    <text x={0} y={40} fontSize={34} fontFamily="Lato, 'Open Sans', sans-serif" fill="#000">{text}</text>
  </svg>
);

export default function App() {
  return (
    <div style={{ position: 'absolute', left: 0, top: 0, width: 1970, height: 759, background: '#fff' }}>
      <div style={{ position: 'absolute', left: 0, top: 0 }}>
        <Panel
          dark={[...kazr17, ...kazr17Core]}
          light={kazr25}
          yLabel="KAZR reflectivity (dBZ)"
          yAxisWidth={157}
          rightMargin={61}
          withCurves
          legend={LegendA}
          legendBox={{ left: 426, top: 479, width: 483, height: 154 }}
        />
      </div>
      <div style={{ position: 'absolute', left: 985, top: 0 }}>
        <Panel
          dark={[...cube17, ...cube17Core]}
          light={cube25}
          yLabel="CloudCubeG reflectivity (dBZ)"
          yAxisWidth={182}
          rightMargin={36}
          withCurves={false}
          legend={LegendB}
          legendBox={{ left: 756, top: 576, width: 177, height: 58 }}
        />
      </div>
      {panelTag('(a)', 14)}
      {panelTag('(b)', 1009)}
    </div>
  );
}
